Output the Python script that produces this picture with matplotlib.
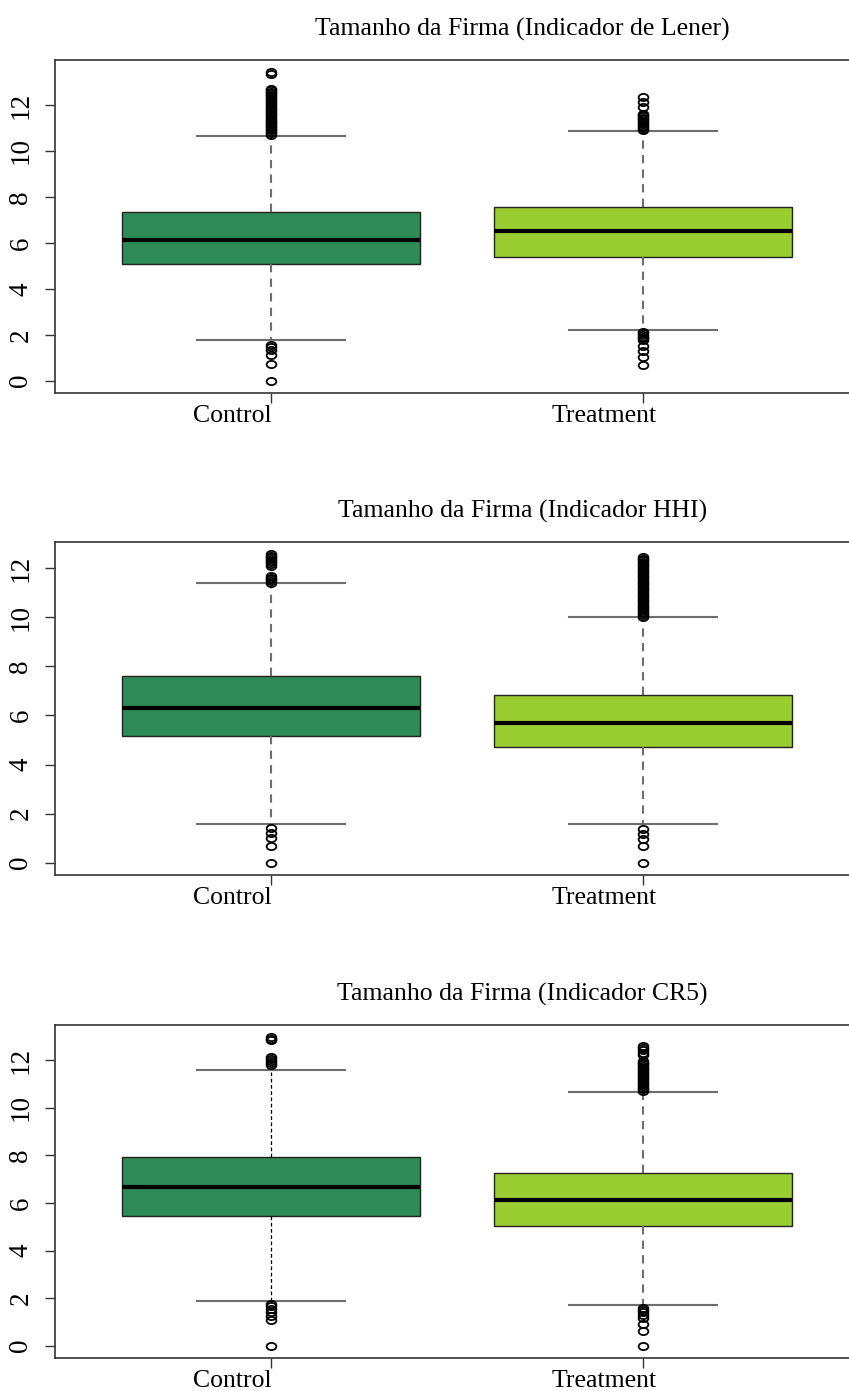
import numpy as np
import matplotlib
matplotlib.use("Agg")
import matplotlib.pyplot as plt
import matplotlib.transforms as mtransforms
from matplotlib.path import Path

plt.rcParams['font.family'] = ['Liberation Serif', 'DejaVu Serif']

groups = ["Control", "Treatment"]
titles = ["Tamanho da Firma (Indicador de Lener)",
          "Tamanho da Firma (Indicador HHI)",
          "Tamanho da Firma (Indicador CR5)"]

# five-number summaries: whisker low, q1, median, q3, whisker high
lener_ctrl = [1.78, 5.07, 6.11, 7.32, 10.66]
lener_trt = [2.21, 5.37, 6.50, 7.58, 10.87]
hhi_ctrl = [1.59, 5.17, 6.31, 7.61, 11.39]
hhi_trt = [1.58, 4.72, 5.70, 6.83, 10.00]
cr5_ctrl = [1.89, 5.43, 6.65, 7.94, 11.60]
cr5_trt = [1.72, 5.03, 6.12, 7.26, 10.68]

# outliers
lener_ctrl_out = [10.70, 10.76, 10.82, 10.89, 10.95, 11.02, 11.08, 11.15, 11.21,
                  11.28, 11.35, 11.41, 11.48, 11.55, 11.61, 11.68, 11.75, 11.82,
                  11.88, 11.95, 12.02, 12.09, 12.16, 12.23, 12.30, 12.37, 12.44,
                  12.51, 12.58, 12.65, 12.70, 13.36, 13.42,
                  1.56, 1.45, 1.34, 1.13, 0.72, 0.0]
lener_trt_out = [10.90, 10.96, 11.03, 11.10, 11.17, 11.24, 11.30, 11.37, 11.44,
                 11.50, 11.57, 11.62, 11.91, 12.12, 12.33,
                 2.13, 2.06, 1.99, 1.92, 1.85, 1.78, 1.49, 1.27, 1.05, 0.69]
hhi_ctrl_out = [11.42, 11.48, 11.55, 11.62, 11.70, 12.10, 12.17, 12.24, 12.31,
                12.38, 12.45, 12.51, 12.57,
                1.40, 1.20, 1.00, 0.68, 0.0]
hhi_trt_out = [10.03, 10.09, 10.16, 10.23, 10.30, 10.37, 10.44, 10.51, 10.58,
               10.65, 10.72, 10.79, 10.86, 10.93, 11.00, 11.07, 11.14, 11.21,
               11.28, 11.35, 11.42, 11.49, 11.56, 11.63, 11.70, 11.77, 11.84,
               11.91, 11.98, 12.05, 12.12, 12.19, 12.26, 12.33, 12.40, 12.45,
               1.37, 1.16, 0.96, 0.66, 0.0]
cr5_ctrl_out = [11.80, 11.88, 11.96, 12.04, 12.12, 12.86, 12.91, 12.96,
                1.76, 1.66, 1.55, 1.40, 1.25, 1.08, 0.0]
cr5_trt_out = [10.71, 10.78, 10.85, 10.92, 10.99, 11.06, 11.13, 11.20, 11.27,
               11.34, 11.41, 11.48, 11.55, 11.62, 11.69, 11.76, 11.83, 11.90,
               11.97, 12.22, 12.32, 12.42, 12.52, 12.60,
               1.60, 1.50, 1.40, 1.29, 1.18, 0.90, 0.62, 0.0]

panels = [
    (lener_ctrl, lener_ctrl_out, lener_trt, lener_trt_out),
    (hhi_ctrl, hhi_ctrl_out, hhi_trt, hhi_trt_out),
    (cr5_ctrl, cr5_ctrl_out, cr5_trt, cr5_trt_out),
]

colors = ["#2E8B57", "#9ACD32"]

ellipse = Path.unit_circle().transformed(mtransforms.Affine2D().scale(1.35, 1.0))


def make_stats(summary, fliers, label):
    lo, q1, med, q3, hi = summary
    return dict(whislo=lo, q1=q1, med=med, q3=q3, whishi=hi,
                fliers=np.array(fliers), label=label)


W, H = 849, 1391
fig = plt.figure(figsize=(W / 100, H / 100), dpi=100)

tops = [60, 542, 1025]
ax_h = 333
left = 55

for i, (ctrl, ctrl_out, trt, trt_out) in enumerate(panels):
    top = tops[i]
    ax = fig.add_axes([left / W, 1 - (top + ax_h) / H, (W - left) / W, ax_h / H])
    stats = [make_stats(ctrl, ctrl_out, groups[0]),
             make_stats(trt, trt_out, groups[1])]
    res = ax.bxp(stats, positions=[1, 2], widths=0.8, capwidths=0.4,
                 patch_artist=True,
                 boxprops=dict(edgecolor="#222222", linewidth=1.0),
                 medianprops=dict(color="black", linewidth=3.0),
                 whiskerprops=dict(color="#6e6e6e", linewidth=1.5,
                                   linestyle=(0, (4, 3))),
                 capprops=dict(color="#6e6e6e", linewidth=1.5),
                 flierprops=dict(marker=ellipse, markerfacecolor="none",
                                 markeredgecolor="black", markersize=7,
                                 markeredgewidth=1.3))
    for patch, c in zip(res["boxes"], colors):
        patch.set_facecolor(c)
    if i == 2:
        # control whisker in the last panel is a fine black dotted line
        for w in res["whiskers"][:2]:
            w.set_color("black")
            w.set_linewidth(0.9)
            w.set_linestyle((0, (3, 2)))

    all_vals = np.concatenate([ctrl, ctrl_out, trt, trt_out])
    vmin, vmax = all_vals.min(), all_vals.max()
    pad = 0.04 * (vmax - vmin)
    ax.set_ylim(vmin - pad, vmax + pad)
    ax.set_xlim(0.419, 2.554)

    ax.set_yticks(range(0, 13, 2))
    ax.tick_params(axis="y", labelrotation=90, length=7, width=1.0,
                   color="#333333", pad=8.5, labelsize=19.5)
    for lbl in ax.get_yticklabels():
        lbl.set_va("center")

    ax.set_xticks([1, 2])
    ax.set_xticklabels(groups)
    ax.tick_params(axis="x", length=7, width=1.0, color="#333333",
                   pad=1.5, labelsize=18.5)
    # group labels sit a little left of their ticks in the original
    shift = mtransforms.ScaledTranslation(-0.39, 0, fig.dpi_scale_trans)
    for lbl in ax.get_xticklabels():
        lbl.set_transform(lbl.get_transform() + shift)

    ax.spines["right"].set_visible(False)
    for s in ["left", "top", "bottom"]:
        ax.spines[s].set_color("#333333")
        ax.spines[s].set_linewidth(1.2)

    ax.text(0.589, 1.072, titles[i], transform=ax.transAxes,
            ha="center", va="baseline", fontsize=18.5)

fig.savefig("out.png", dpi=100)
